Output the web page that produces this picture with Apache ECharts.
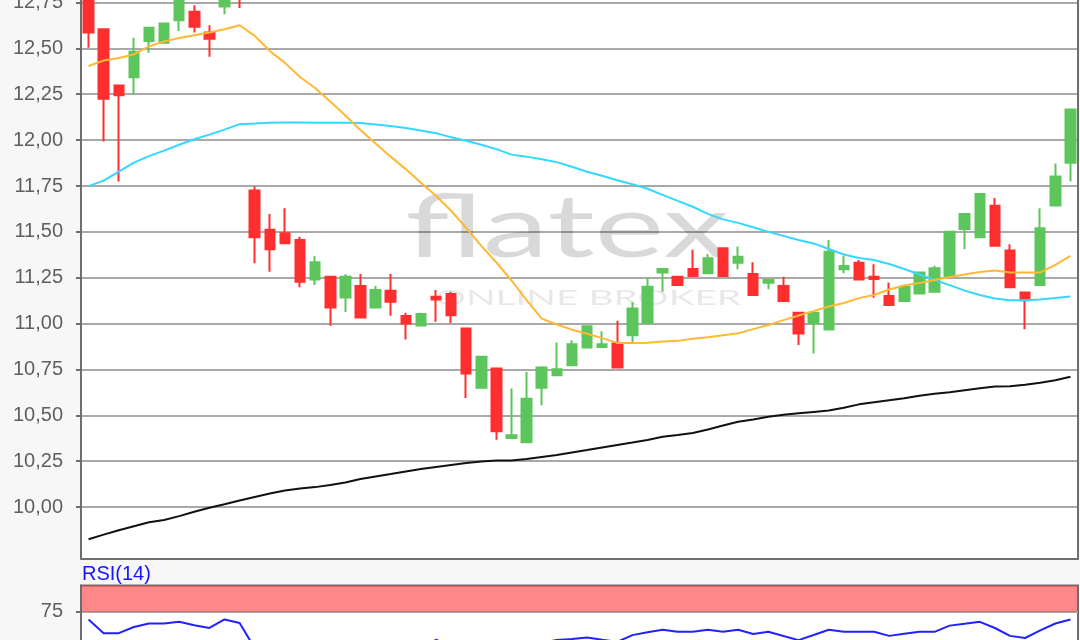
<!DOCTYPE html>
<html>
<head>
<meta charset="utf-8">
<script src="https://cdn.jsdelivr.net/npm/echarts@6/dist/echarts.min.js"></script>
<style>
html,body{margin:0;padding:0;background:#f7f7f7;}
#c{width:1080px;height:640px;}
</style>
</head>
<body>
<div id="c"></div>
<script>
// ---- data ----
const categories = ['1','2','3','4','5','6','7','8','9','10','11','12','13','14','15','16','17','18','19','20',
  '21','22','23','24','25','26','27','28','29','30','31','32','33','34','35','36','37','38','39','40',
  '41','42','43','44','45','46','47','48','49','50','51','52','53','54','55','56','57','58','59','60',
  '61','62','63','64','65','66'];

const openP = [
  12.860, 12.604, 12.298, 12.343, 12.540, 12.531, 12.653, 12.700, 12.586, 12.728, 12.900,
  11.726, 11.511, 11.493, 11.456, 11.241, 11.256, 11.143, 11.205, 11.088, 11.179,
  11.041, 10.990, 11.146, 11.161, 10.974, 10.651, 10.755, 10.376, 10.354, 10.651,
  10.719, 10.773, 10.870, 10.873, 10.892, 10.937, 11.004, 11.278, 11.256, 11.298,
  11.274, 11.411, 11.332, 11.270, 11.223, 11.205, 11.059, 11.004, 10.968, 11.296,
  11.332, 11.256, 11.150, 11.123, 11.164, 11.174, 11.260, 11.515, 11.471, 11.642,
  11.398, 11.170, 11.210, 11.644, 11.876];
const closeP = [
  12.586, 12.225, 12.245, 12.482, 12.613, 12.635, 12.820, 12.618, 12.553, 12.800, 12.800,
  11.471, 11.405, 11.438, 11.228, 11.334, 11.088, 11.256, 11.034, 11.183, 11.119,
  11.001, 11.052, 11.132, 11.045, 10.728, 10.819, 10.413, 10.391, 10.591, 10.761,
  10.751, 10.888, 10.986, 10.888, 10.761, 11.083, 11.201, 11.298, 11.210, 11.260,
  11.356, 11.260, 11.365, 11.156, 11.238, 11.123, 10.946, 11.059, 11.392, 11.314,
  11.241, 11.243, 11.101, 11.201, 11.279, 11.302, 11.500, 11.597, 11.706, 11.425,
  11.198, 11.128, 11.520, 11.802, 12.167];
const lowP = [
  12.504, 11.993, 11.775, 12.252, 12.476, 12.531, 12.595, 12.586, 12.455, 12.686, 12.720,
  11.329, 11.283, 11.438, 11.198, 11.210, 10.988, 11.064, 11.034, 11.088, 11.043,
  10.913, 10.990, 11.010, 11.004, 10.595, 10.651, 10.367, 10.376, 10.354, 10.555,
  10.719, 10.773, 10.870, 10.873, 10.761, 10.900, 11.004, 11.174, 11.210, 11.260,
  11.274, 11.260, 11.296, 11.156, 11.187, 11.123, 10.883, 10.837, 10.968, 11.274,
  11.241, 11.141, 11.101, 11.123, 11.164, 11.174, 11.260, 11.405, 11.471, 11.425,
  11.198, 10.969, 11.210, 11.644, 11.775];
const highP = [
  12.900, 12.604, 12.298, 12.558, 12.613, 12.635, 12.840, 12.735, 12.626, 12.820, 12.920,
  11.748, 11.597, 11.629, 11.474, 11.369, 11.260, 11.269, 11.270, 11.205, 11.270,
  11.059, 11.059, 11.183, 11.174, 10.974, 10.819, 10.755, 10.646, 10.736, 10.768,
  10.897, 10.910, 10.986, 10.958, 11.016, 11.116, 11.252, 11.298, 11.256, 11.402,
  11.380, 11.411, 11.420, 11.334, 11.238, 11.256, 11.059, 11.059, 11.456, 11.370,
  11.347, 11.324, 11.224, 11.201, 11.279, 11.316, 11.500, 11.597, 11.706, 11.684,
  11.433, 11.170, 11.629, 11.872, 12.167];

// moving averages (orange short, cyan medium, black long)
const maShort = [
  12.404, 12.434, 12.448, 12.467, 12.511, 12.538, 12.557, 12.571, 12.586, 12.604, 12.626,
  12.568, 12.486, 12.421, 12.344, 12.284, 12.210, 12.134, 12.055, 11.981, 11.910,
  11.842, 11.768, 11.697, 11.615, 11.522, 11.424, 11.333, 11.235, 11.128, 11.027,
  10.995, 10.967, 10.945, 10.921, 10.895, 10.895, 10.896, 10.902, 10.906, 10.918,
  10.926, 10.937, 10.948, 10.970, 10.992, 11.019, 11.044, 11.068, 11.093, 11.112,
  11.139, 11.156, 11.186, 11.208, 11.221, 11.238, 11.254, 11.268, 11.281, 11.290,
  11.278, 11.278, 11.279, 11.320, 11.369];
const maMid = [
  11.749, 11.779, 11.828, 11.877, 11.913, 11.943, 11.975, 12.005, 12.030, 12.057, 12.087,
  12.090, 12.094, 12.096, 12.096, 12.094, 12.094, 12.094, 12.093, 12.085, 12.077,
  12.066, 12.052, 12.038, 12.016, 11.997, 11.975, 11.951, 11.921, 11.910, 11.896,
  11.880, 11.855, 11.828, 11.806, 11.781, 11.760, 11.735, 11.702, 11.669, 11.637,
  11.598, 11.568, 11.549, 11.525, 11.500, 11.478, 11.456, 11.437, 11.407, 11.377,
  11.358, 11.347, 11.325, 11.298, 11.268, 11.238, 11.210, 11.180, 11.156, 11.137,
  11.128, 11.128, 11.131, 11.139, 11.148];
const maLong = [
  9.825, 9.850, 9.874, 9.896, 9.918, 9.930, 9.951, 9.975, 9.997, 10.016, 10.036,
  10.055, 10.074, 10.090, 10.101, 10.109, 10.120, 10.134, 10.153, 10.167, 10.180,
  10.194, 10.208, 10.219, 10.230, 10.240, 10.249, 10.254, 10.254, 10.262, 10.273,
  10.284, 10.298, 10.311, 10.325, 10.339, 10.352, 10.366, 10.383, 10.393, 10.404,
  10.423, 10.445, 10.465, 10.478, 10.492, 10.503, 10.511, 10.519, 10.527, 10.541,
  10.560, 10.571, 10.582, 10.593, 10.607, 10.618, 10.626, 10.637, 10.648, 10.657,
  10.659, 10.667, 10.678, 10.691, 10.710];

const rsi = [
  66.0, 49.8, 49.8, 57.1, 61.2, 61.2, 63.2, 59.1, 55.9, 66.0, 61.9,
  32.0, 27.0, 26.0, 22.0, 27.0, 23.0, 28.0, 25.0, 29.0, 28.0,
  26.0, 31.0, 42.0, 35.0, 27.0, 30.0, 21.0, 23.0, 30.0, 38.4,
  41.8, 43.0, 44.8, 42.0, 39.6, 47.5, 51.0, 53.9, 51.4, 51.4,
  53.9, 51.4, 53.9, 48.9, 51.4, 46.4, 41.6, 47.7, 53.9, 51.4,
  51.4, 51.4, 46.6, 49.0, 51.4, 51.4, 58.7, 61.0, 63.2, 55.9,
  46.6, 44.1, 53.1, 61.2, 66.0];

const priceTicks = [10.00, 10.25, 10.50, 10.75, 11.00, 11.25, 11.50, 11.75, 12.00, 12.25, 12.50, 12.75];
const rsiTicks = [75];
const rsiOverbought = [75, 106];

// ---- chart ----
const candleData = categories.map((c, i) => [openP[i], closeP[i], lowP[i], highP[i]]);
const fmtPrice = v => Number(v).toFixed(2).replace('.', ',');

const axisGray = '#6e6e6e';
const gridGray = '#a9a9a9';
const labelStyle = { color: '#5f5f5f', fontSize: 20, fontFamily: 'Liberation Sans, Arial, sans-serif', margin: 18 };
const priceMin = 9.72, priceMax = 12.7636;

const chart = echarts.init(document.getElementById('c'), null, { renderer: 'canvas' });
chart.setOption({
  animation: false,
  backgroundColor: '#f7f7f7',
  title: {
    text: 'RSI(14)', left: 82, top: 564, padding: 0,
    textStyle: { color: '#1515ff', fontSize: 20, fontWeight: 'normal', fontFamily: 'Liberation Sans, Arial, sans-serif' }
  },
  grid: [
    { left: 81, right: 2, top: 0, height: 558.5, outerBoundsMode: 'none', containLabel: false,
      show: true, backgroundColor: '#ffffff', borderWidth: 0, borderColor: 'transparent' },
    { left: 81, right: 2, top: 585.5, height: 93.3, outerBoundsMode: 'none', containLabel: false,
      show: true, backgroundColor: '#ffffff', borderColor: axisGray, borderWidth: 2 }
  ],
  xAxis: [
    { type: 'category', gridIndex: 0, data: categories, boundaryGap: true, position: 'bottom',
      axisLine: { show: true, onZero: false, lineStyle: { color: axisGray, width: 2 } },
      axisTick: { show: false }, axisLabel: { show: false }, splitLine: { show: false } },
    { type: 'category', gridIndex: 1, data: categories, boundaryGap: true,
      axisLine: { show: false }, axisTick: { show: false }, axisLabel: { show: false }, splitLine: { show: false } }
  ],
  yAxis: [
    { type: 'value', gridIndex: 0, min: priceMin, max: priceMax, splitNumber: 12, minInterval: 0.25, maxInterval: 0.25,
      axisLine: { show: true, lineStyle: { color: axisGray, width: 2 } },
      axisTick: { show: true, customValues: priceTicks, length: 5, lineStyle: { color: axisGray, width: 2 } },
      axisLabel: Object.assign({ customValues: priceTicks, formatter: fmtPrice }, labelStyle),
      splitLine: { show: true, lineStyle: { color: gridGray, width: 2 } } },
    { type: 'value', gridIndex: 1, min: -4, max: 106, splitNumber: 4, minInterval: 25, maxInterval: 25,
      axisLine: { show: true, lineStyle: { color: axisGray, width: 2 } },
      axisTick: { show: true, customValues: rsiTicks, length: 5, lineStyle: { color: axisGray, width: 2 } },
      axisLabel: Object.assign({ customValues: rsiTicks, formatter: v => String(v) }, labelStyle),
      splitLine: { show: true, lineStyle: { color: gridGray, width: 2 } } },
    { type: 'value', gridIndex: 0, position: 'right', min: priceMin, max: priceMax,
      axisLine: { show: true, lineStyle: { color: axisGray, width: 2 } },
      axisTick: { show: false }, axisLabel: { show: false }, splitLine: { show: false } }
  ],
  graphic: [
    { type: 'text', x: 567, y: 229, scaleX: 1.5, z: 1, silent: true,
      style: { text: 'flatex', fill: 'rgba(0,0,0,0.15)', fontSize: 88, fontFamily: 'Lato', fontWeight: 'normal',
               align: 'center', verticalAlign: 'middle' } },
    { type: 'text', x: 588, y: 298, scaleX: 1.85, z: 1, silent: true,
      style: { text: 'ONLINE BROKER', fill: 'rgba(0,0,0,0.09)', fontSize: 21, fontFamily: 'Lato', fontWeight: 'normal',
               align: 'center', verticalAlign: 'middle' } }
  ],
  series: [
    { name: 'Kurs', type: 'candlestick', xAxisIndex: 0, yAxisIndex: 0, data: candleData, barWidth: 10,
      itemStyle: { color: '#5cc65c', color0: '#ff2f2f', borderColor: '#5cc65c', borderColor0: '#ff2f2f', borderWidth: 2 } },
    { name: 'MA long', type: 'line', xAxisIndex: 0, yAxisIndex: 0, data: maLong, symbol: 'none',
      lineStyle: { color: '#111111', width: 2 } },
    { name: 'MA mid', type: 'line', xAxisIndex: 0, yAxisIndex: 0, data: maMid, symbol: 'none',
      lineStyle: { color: '#33d8ff', width: 2 } },
    { name: 'MA short', type: 'line', xAxisIndex: 0, yAxisIndex: 0, data: maShort, symbol: 'none',
      lineStyle: { color: '#ffb833', width: 2 } },
    { name: 'RSI(14)', type: 'line', xAxisIndex: 1, yAxisIndex: 1, data: rsi, symbol: 'none',
      lineStyle: { color: '#2222ff', width: 2 },
      markArea: { silent: true, itemStyle: { color: 'rgba(255,40,40,0.55)' },
        data: [[{ yAxis: rsiOverbought[0] }, { yAxis: rsiOverbought[1] }]] } }
  ]
});
</script>
</body>
</html>
